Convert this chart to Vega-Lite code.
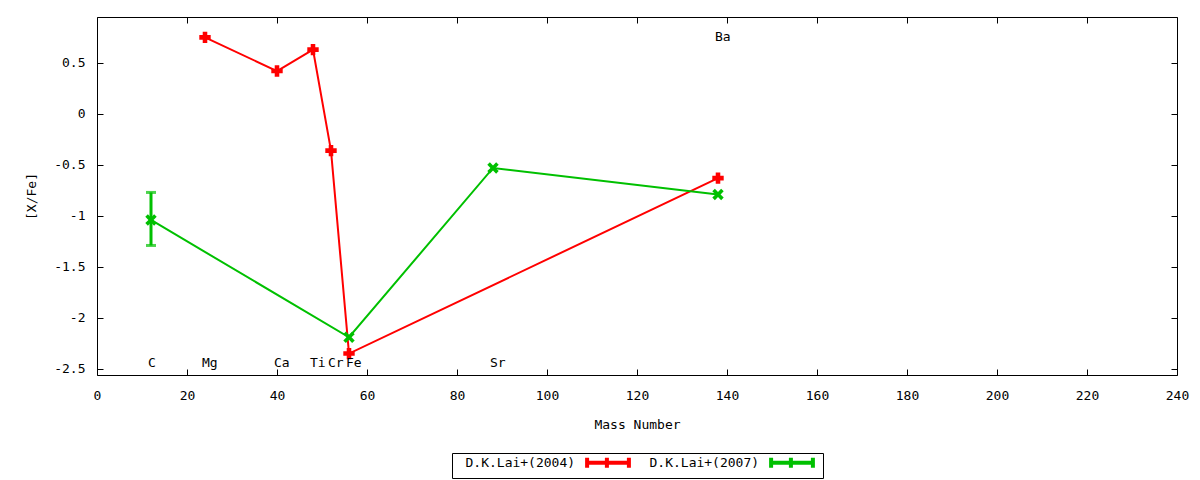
{
  "$schema": "https://vega.github.io/schema/vega-lite/v6.json",
  "width": 1080,
  "height": 358,
  "autosize": {"type": "none"},
  "padding": {"left": 97, "top": 17, "right": 23, "bottom": 105},
  "background": "white",
  "config": {
    "font": "DejaVu Sans Mono",
    "view": {"stroke": "black", "strokeWidth": 1},
    "axis": {
      "labelFont": "DejaVu Sans Mono",
      "labelFontSize": 13,
      "labelColor": "black",
      "labelFlush": false,
      "titleFont": "DejaVu Sans Mono",
      "titleFontSize": 13,
      "titleFontWeight": "normal",
      "titleColor": "black",
      "domain": false,
      "grid": false,
      "tickColor": "black",
      "tickSize": -6,
      "tickWidth": 1
    }
  },
  "datasets": {
    "abund": [
      {"study": "D.K.Lai+(2004)", "element": "Mg", "mass": 24, "xfe": 0.75},
      {"study": "D.K.Lai+(2004)", "element": "Ca", "mass": 40, "xfe": 0.42},
      {"study": "D.K.Lai+(2004)", "element": "Ti", "mass": 48, "xfe": 0.63},
      {"study": "D.K.Lai+(2004)", "element": "Cr", "mass": 52, "xfe": -0.36},
      {"study": "D.K.Lai+(2004)", "element": "Fe", "mass": 56, "xfe": -2.35},
      {"study": "D.K.Lai+(2004)", "element": "Ba", "mass": 138, "xfe": -0.63},
      {"study": "D.K.Lai+(2007)", "element": "C", "mass": 12, "xfe": -1.04, "err_lo": -1.29, "err_hi": -0.77},
      {"study": "D.K.Lai+(2007)", "element": "Fe", "mass": 56, "xfe": -2.19},
      {"study": "D.K.Lai+(2007)", "element": "Sr", "mass": 88, "xfe": -0.53},
      {"study": "D.K.Lai+(2007)", "element": "Ba", "mass": 138, "xfe": -0.79}
    ],
    "labels": [
      {"element": "C", "mass": 12, "pos": -2.44},
      {"element": "Mg", "mass": 24, "pos": -2.44},
      {"element": "Ca", "mass": 40, "pos": -2.44},
      {"element": "Ti", "mass": 48, "pos": -2.44},
      {"element": "Cr", "mass": 52, "pos": -2.44},
      {"element": "Fe", "mass": 56, "pos": -2.44},
      {"element": "Sr", "mass": 88, "pos": -2.44},
      {"element": "Ba", "mass": 138, "pos": 0.75}
    ]
  },
  "layer": [
    {
      "data": {"name": "abund"},
      "mark": {"type": "line", "strokeWidth": 2},
      "encoding": {
        "x": {
          "field": "mass", "type": "quantitative",
          "scale": {"domain": [0, 240], "nice": false, "zero": false},
          "axis": {"title": "Mass Number", "values": [0, 20, 40, 60, 80, 100, 120, 140, 160, 180, 200, 220, 240], "labelPadding": 20, "titlePadding": 16}
        },
        "y": {
          "field": "xfe", "type": "quantitative",
          "scale": {"domain": [-2.56, 0.95], "nice": false, "zero": false},
          "axis": {"title": "[X/Fe]", "values": [-2.5, -2, -1.5, -1, -0.5, 0, 0.5], "labelExpr": "datum.value + ''", "labelPadding": 18, "titlePadding": 15}
        },
        "color": {
          "field": "study", "type": "nominal",
          "scale": {"domain": ["D.K.Lai+(2004)", "D.K.Lai+(2007)"], "range": ["#ff0000", "#00c000"]},
          "legend": {
            "title": null,
            "orient": "none",
            "direction": "horizontal",
            "legendX": 355,
            "legendY": 436,
            "strokeColor": "black",
            "padding": 2,
            "labelFont": "DejaVu Sans Mono",
            "labelFontSize": 13,
            "labelColor": "black",
            "labelAlign": "left",
            "labelBaseline": "middle",
            "labelOffset": -150,
            "symbolOffset": 146.5,
            "columnPadding": 1,
            "symbolType": "M-3.8,0H3.8M-3.8,-0.9V0.9M3.8,-0.9V0.9M-0.2,-0.9V0.9",
            "symbolSize": 121,
            "symbolStrokeWidth": 4,
            "symbolFillColor": "transparent"
          }
        }
      }
    },
    {
      "data": {"name": "abund"},
      "transform": [{"filter": "isValid(datum.err_lo)"}],
      "mark": {"type": "rule", "color": "#00c000", "strokeWidth": 3},
      "encoding": {
        "x": {"field": "mass", "type": "quantitative", "axis": null},
        "y": {"field": "err_lo", "type": "quantitative", "axis": null},
        "y2": {"field": "err_hi"}
      }
    },
    {
      "data": {"name": "abund"},
      "transform": [{"filter": "isValid(datum.err_lo)"}, {"fold": ["err_lo", "err_hi"], "as": ["end", "val"]}],
      "mark": {"type": "tick", "orient": "horizontal", "color": "#00c000", "thickness": 3, "size": 10},
      "encoding": {
        "x": {"field": "mass", "type": "quantitative", "axis": null},
        "y": {"field": "val", "type": "quantitative", "axis": null}
      }
    },
    {
      "data": {"name": "abund"},
      "transform": [{"filter": "datum.study == 'D.K.Lai+(2004)'"}],
      "mark": {"type": "point", "shape": "cross", "filled": true, "size": 130, "opacity": 1, "color": "#ff0000"},
      "encoding": {
        "x": {"field": "mass", "type": "quantitative", "axis": null},
        "y": {"field": "xfe", "type": "quantitative", "axis": null}
      }
    },
    {
      "data": {"name": "abund"},
      "transform": [{"filter": "datum.study == 'D.K.Lai+(2007)'"}],
      "mark": {"type": "point", "shape": "M-1,-0.55L-0.55,-1L0,-0.45L0.55,-1L1,-0.55L0.45,0L1,0.55L0.55,1L0,0.45L-0.55,1L-1,0.55L-0.45,0Z", "filled": true, "size": 130, "opacity": 1, "color": "#00c000"},
      "encoding": {
        "x": {"field": "mass", "type": "quantitative", "axis": null},
        "y": {"field": "xfe", "type": "quantitative", "axis": null}
      }
    },
    {
      "data": {"name": "labels"},
      "mark": {"type": "text", "align": "left", "baseline": "middle", "dx": -3, "font": "DejaVu Sans Mono", "fontSize": 13, "color": "black"},
      "encoding": {
        "x": {"field": "mass", "type": "quantitative", "axis": null},
        "y": {"field": "pos", "type": "quantitative", "axis": null},
        "text": {"field": "element", "type": "nominal"}
      }
    },
    {
      "data": {"name": "labels"},
      "mark": {"type": "point", "opacity": 0},
      "encoding": {
        "x": {"field": "mass", "type": "quantitative", "axis": {"orient": "top", "labels": false, "title": null, "values": [0, 20, 40, 60, 80, 100, 120, 140, 160, 180, 200, 220, 240]}},
        "y": {"field": "pos", "type": "quantitative", "axis": {"orient": "right", "labels": false, "title": null, "values": [-2.5, -2, -1.5, -1, -0.5, 0, 0.5]}}
      }
    }
  ],
  "resolve": {"axis": {"x": "independent", "y": "independent"}}
}
